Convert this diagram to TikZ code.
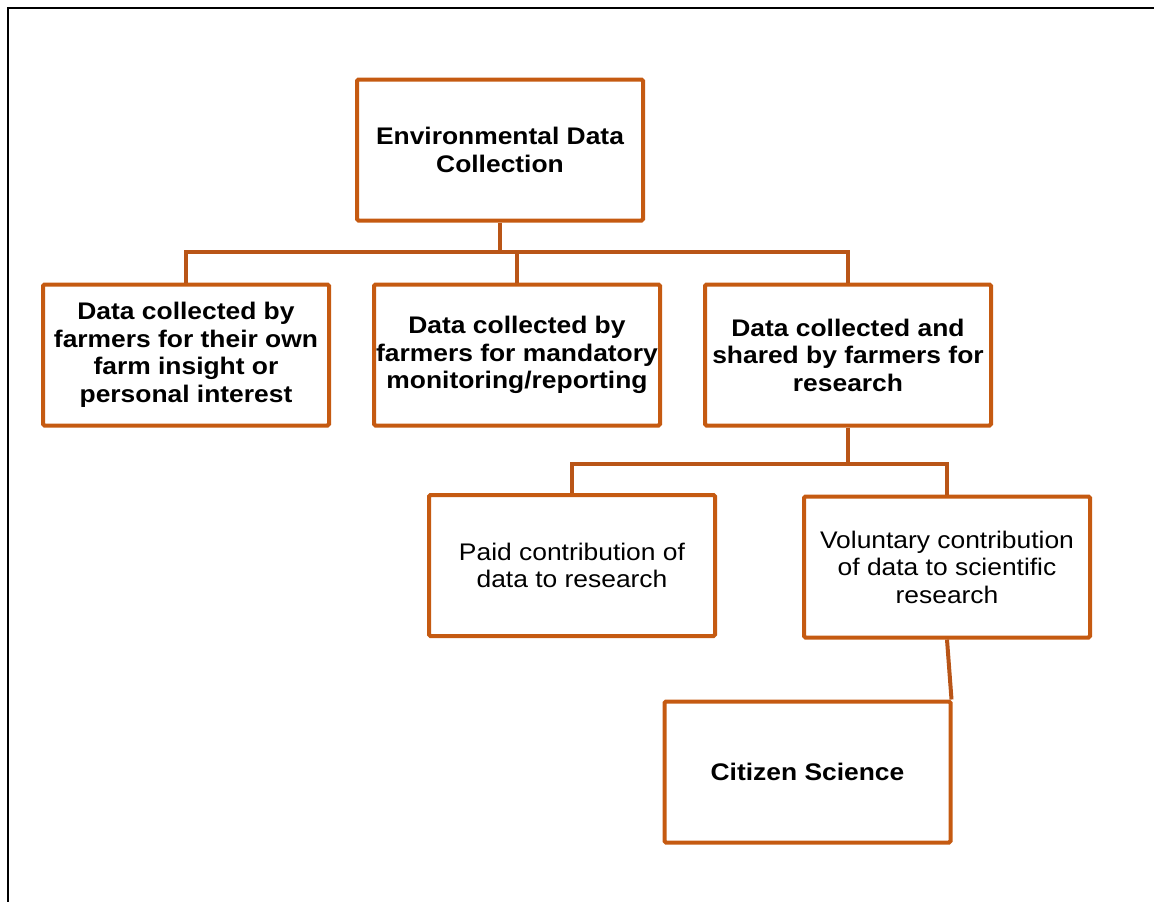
\documentclass[tikz,border=0pt]{standalone}
\usepackage{fontspec}
\setmainfont{Liberation Sans}[FakeStretch=1.1]
\definecolor{boxc}{HTML}{C55A11}
\definecolor{connc}{HTML}{B95517}
\begin{document}
\begin{tikzpicture}[x=1pt,y=-1pt,
  box/.style={draw=boxc, line width=4pt, rounded corners=1.5pt, minimum width=286pt, minimum height=141pt,
    align=center, inner sep=0pt, font=\fontsize{24}{27.5}\selectfont},
  bbox/.style={box, font=\fontsize{24}{27.5}\selectfont\bfseries},
  conn/.style={draw=connc, line width=4pt}]
\useasboundingbox (0,0) rectangle (1154,902);
\draw[line width=2pt] (8,902) -- (8,8) -- (1154,8);

\node[bbox] (top) at (500,150) {Environmental Data\\Collection};
\node[bbox] (a) at (186,355) {Data collected by\\farmers for their own\\farm insight or\\personal interest};
\node[bbox] (b) at (517,355) {Data collected by\\farmers for mandatory\\monitoring/reporting};
\node[bbox] (c) at (848,355) {Data collected and\\shared by farmers for\\research};
\node[box] (paid) at (572,565.5) {Paid contribution of\\data to research};
\node[box] (vol) at (947,567) {Voluntary contribution\\of data to scientific\\research};
\node[bbox] (cit) at (807.5,772) {Citizen Science};

\draw[conn] (top.south) -- (500,252) coordinate (j1);
\draw[conn] (a.north) |- (j1) -| (c.north);
\draw[conn] (b.north) -- (b.north |- j1);
\draw[conn] (c.south) -- (848,464) coordinate (j2);
\draw[conn] (paid.north) |- (j2) -| (vol.north);
\draw[conn] (vol.south) -- ([xshift=-1pt]cit.north east);
\end{tikzpicture}
\end{document}
